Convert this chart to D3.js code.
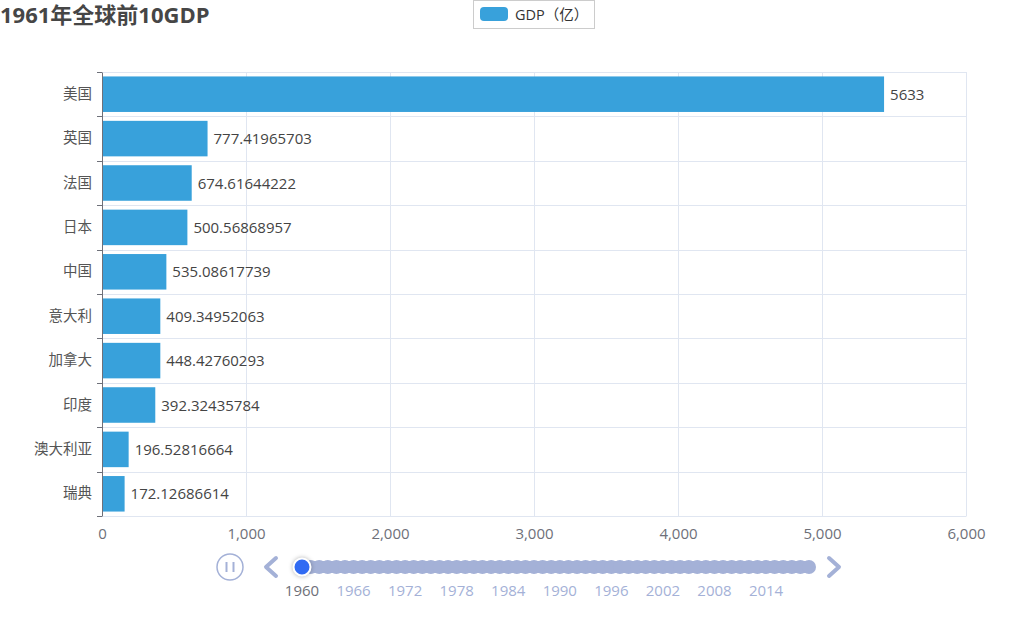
<!DOCTYPE html>
<html><head><meta charset="utf-8">
<script src="https://cdn.jsdelivr.net/npm/d3@7/dist/d3.min.js"></script>
<style>
body{margin:0;background:#fff;}
text{font-family:"Open Sans","Noto Sans CJK SC",sans-serif;}
</style></head><body>
<svg id="c" width="1017" height="618"></svg>
<script>
const title = "1961年全球前10GDP";
const seriesName = "GDP（亿）";
const countries = ["美国","英国","法国","日本","中国","意大利","加拿大","印度","澳大利亚","瑞典"];
const barValues = [5431, 733, 623, 593, 447, 405, 405, 370, 185, 157];
const labelTexts = ["5633","777.41965703","674.61644222","500.56868957","535.08617739","409.34952063","448.42760293","392.32435784","196.52816664","172.12686614"];
const xTicks = [0,1000,2000,3000,4000,5000,6000];
const years = d3.range(1960, 2020);
const yearLabels = [1960,1966,1972,1978,1984,1990,1996,2002,2008,2014];
const currentYear = 1960;

const svg = d3.select("#c");
const pL = 102, pR = 966, pT = 72, pB = 516;
const x = d3.scaleLinear().domain([0,6000]).range([pL,pR]);
const y = d3.scaleBand().domain(countries).range([pT,pB]).paddingInner(0.2).paddingOuter(0.1);
const barColor = "#38a1db";

// title
svg.append("text").attr("x",0).attr("y",23).attr("font-size",22).attr("font-weight","bold")
  .attr("fill","#464646").text(title);

// legend
svg.append("rect").attr("x",473.5).attr("y",0.5).attr("width",121).attr("height",28)
  .attr("fill","#fff").attr("stroke","#ccc");
svg.append("rect").attr("x",480).attr("y",7).attr("width",28).attr("height",14).attr("rx",4).attr("fill",barColor);
svg.append("text").attr("x",515).attr("y",19.5).attr("font-size",14.5).attr("fill","#333").text(seriesName);

// grid
const g = svg.append("g");
g.selectAll(".vg").data(xTicks.slice(1)).join("line")
  .attr("x1",d=>Math.round(x(d))+0.5).attr("x2",d=>Math.round(x(d))+0.5)
  .attr("y1",pT).attr("y2",pB).attr("stroke","#e0e6f1");
const bounds = d3.range(countries.length).map(i=>pT + i*(pB-pT)/countries.length);
g.selectAll(".hg").data(bounds).join("line")
  .attr("x1",pL).attr("x2",pR)
  .attr("y1",d=>Math.round(d)+0.5).attr("y2",d=>Math.round(d)+0.5).attr("stroke","#e0e6f1");

// bars
svg.selectAll(".bar").data(countries).join("rect")
  .attr("x",x(0)).attr("y",d=>y(d))
  .attr("width",(d,i)=>x(barValues[i])-x(0)).attr("height",y.bandwidth())
  .attr("fill",barColor);
svg.selectAll(".lbl").data(countries).join("text")
  .attr("x",(d,i)=>x(barValues[i])+6).attr("y",d=>y(d)+y.bandwidth()/2+5.5)
  .attr("font-size",15).attr("fill","#444").text((d,i)=>labelTexts[i]);

// x axis
const xa = svg.append("g").attr("transform",`translate(0,${pB})`)
  .call(d3.axisBottom(x).tickValues(xTicks).tickFormat(d3.format(",")).tickSize(0).tickPadding(12));
xa.select(".domain").attr("stroke","#e0e6f1");
xa.selectAll("text").attr("font-size",15).attr("fill","#6e7079").attr("font-family",null);

// y axis
const ya = svg.append("g").attr("transform",`translate(${pL},0)`)
  .call(d3.axisLeft(y).tickSize(0).tickPadding(10));
ya.select(".domain").attr("stroke","#6e7079");
ya.selectAll("text").attr("font-size",14.5).attr("fill","#555").attr("font-family",null);
ya.selectAll(".yt").data(bounds.concat([pB])).join("line")
  .attr("x1",-5).attr("x2",0).attr("y1",d=>Math.round(d)+0.5).attr("y2",d=>Math.round(d)+0.5)
  .attr("stroke","#6e7079");

// timeline
const tl = svg.append("g");
const ty = 567;
const tx = d3.scaleLinear().domain([1960,2019]).range([302,809]);
const tlColor = "#a4b1d7";
tl.append("circle").attr("cx",230).attr("cy",ty).attr("r",13).attr("fill","none").attr("stroke",tlColor).attr("stroke-width",1.5);
tl.append("line").attr("x1",226.5).attr("x2",226.5).attr("y1",ty-5).attr("y2",ty+5).attr("stroke",tlColor).attr("stroke-width",2);
tl.append("line").attr("x1",233.5).attr("x2",233.5).attr("y1",ty-5).attr("y2",ty+5).attr("stroke",tlColor).attr("stroke-width",2);
tl.append("path").attr("d",`M276,${ty-9} L266,${ty} L276,${ty+9}`).attr("fill","none").attr("stroke",tlColor).attr("stroke-width",4).attr("stroke-linejoin","round").attr("stroke-linecap","round");
tl.append("path").attr("d",`M829,${ty-9} L839,${ty} L829,${ty+9}`).attr("fill","none").attr("stroke",tlColor).attr("stroke-width",4).attr("stroke-linejoin","round").attr("stroke-linecap","round");
tl.append("line").attr("x1",tx(1960)).attr("x2",tx(2019)).attr("y1",ty).attr("y2",ty).attr("stroke",tlColor).attr("stroke-width",12).attr("stroke-linecap","round");
tl.selectAll(".yp").data(years).join("circle").attr("cx",d=>tx(d)).attr("cy",ty).attr("r",7).attr("fill",tlColor);
tl.selectAll(".yl").data(yearLabels).join("text").attr("x",d=>tx(d)).attr("y",596).attr("text-anchor","middle")
  .attr("font-size",15).attr("fill",d=>d===currentYear?"#6e7079":tlColor).text(d=>d);
tl.append("circle").attr("cx",tx(currentYear)).attr("cy",ty).attr("r",8.5).attr("fill","#316bf3").attr("stroke","#fff").attr("stroke-width",2)
  .style("filter","drop-shadow(0 0 2px rgba(0,0,0,0.3))");
</script></body></html>
